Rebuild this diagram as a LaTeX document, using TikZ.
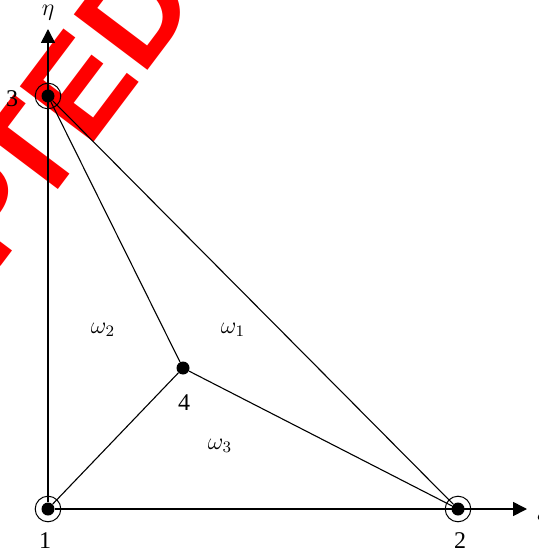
\documentclass[tikz,border=0pt]{standalone}
\usepackage{fontspec}
\setmainfont{Liberation Serif}
\newfontfamily\wmfont{Liberation Sans}
\usetikzlibrary{arrows.meta, positioning}

\begin{document}
\begin{tikzpicture}[x=0.5pt, y=0.5pt,
  dot/.style={circle, fill=black, inner sep=0pt, minimum size=6.5pt},
  ring/.style={circle, draw=black, line width=0.5pt, inner sep=0pt, minimum size=12.8pt},
  edge/.style={line width=0.55pt},
  axis/.style={line width=0.8pt, -{Triangle[length=7pt, width=7pt]}},
  lbl/.style={font=\fontsize{12}{14}\selectfont, inner sep=0pt},
  wmark/.style={text=red, font=\wmfont\bfseries\fontsize{67}{72}\selectfont, inner sep=0pt}]
  \useasboundingbox (0,-550) rectangle (538,0);

  % watermark
  \node[wmark, rotate=53, anchor=base west] (wm) at (-233.4,-576.7) {ACCEP\kern-8pt TED};

  % nodes
  \node[dot] (n1) at (48,-509) {};
  \node[dot] (n2) at (458,-509) {};
  \node[dot] (n3) at (48,-96) {};
  \node[dot] (n4) at (183,-368) {};
  \node[ring] (r1) at (n1) {};
  \node[ring] (r2) at (n2) {};
  \node[ring] (r3) at (n3) {};
  \coordinate (xtip) at (527,-509);
  \coordinate (ytip) at (48,-29);

  % axes
  \draw[axis] (n1) -- (xtip);
  \draw[axis] (n1) -- (ytip);

  % element edges
  \draw[edge] (n3) -- (n2);
  \draw[edge] (n3) -- (n4);
  \draw[edge] (n4) -- (n1);
  \draw[edge] (n4) -- (n2);

  % labels
  \node[lbl] (xi) at (543,-514) {$\xi$};
  \node[lbl] (eta) at (48,-13) {$\eta$};
  \node[lbl] (l1) at (45,-541) {1};
  \node[lbl] (l2) at (460,-541) {2};
  \node[lbl] (l3) at (12,-99) {3};
  \node[lbl] (l4) at (184,-403) {4};
  \node[lbl] (w1) at (233,-330) {$\omega_1$};
  \node[lbl] (w2) at (103,-330) {$\omega_2$};
  \node[lbl] (w3) at (220,-446) {$\omega_3$};
\end{tikzpicture}
\end{document}
